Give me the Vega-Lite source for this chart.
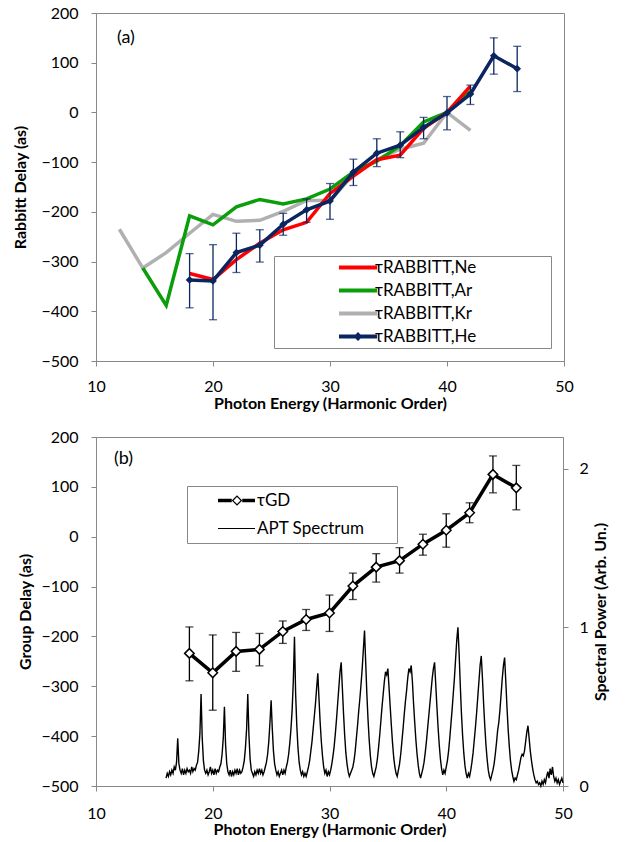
{
  "$schema": "https://vega.github.io/schema/vega-lite/v6.json",
  "padding": {"top": 4, "left": 12, "right": 2, "bottom": 2},
  "spacing": 16,
  "resolve": {"scale": {"color": "independent"}, "legend": {"color": "independent"}},
  "config": {
    "font": "Lato",
    "view": {"stroke": "#888888", "strokeWidth": 1},
    "axis": {"grid": false, "domainColor": "#888888", "domainWidth": 1, "tickColor": "#888888", "tickSize": 5, "tickWidth": 1, "labelFont": "Lato", "labelFontSize": 16, "labelColor": "#000000", "titleFont": "Lato", "titleFontSize": 16, "titleFontWeight": "bold", "titleColor": "#000000", "labelPadding": 13, "labelFlush": false, "labelOverlap": false, "titlePadding": 12},
    "legend": {"labelFont": "Lato", "labelFontSize": 17, "labelColor": "#000000", "fillColor": "#ffffff", "strokeColor": "#888888", "symbolSize": 100, "symbolStrokeWidth": 0, "labelLimit": 400, "titleOrient": "right", "titleOpacity": 0, "titleFont": "Lato", "titleFontWeight": "normal", "titleLimit": 400}
  },
  "datasets": {
    "delays": [
      {"s": "τRABBITT,Kr", "h": 12, "d": -235}, {"s": "τRABBITT,Kr", "h": 14, "d": -313}, {"s": "τRABBITT,Kr", "h": 16, "d": -282}, {"s": "τRABBITT,Kr", "h": 18, "d": -243}, {"s": "τRABBITT,Kr", "h": 20, "d": -205}, {"s": "τRABBITT,Kr", "h": 22, "d": -219}, {"s": "τRABBITT,Kr", "h": 24, "d": -217}, {"s": "τRABBITT,Kr", "h": 26, "d": -199}, {"s": "τRABBITT,Kr", "h": 28, "d": -177}, {"s": "τRABBITT,Kr", "h": 30, "d": -177}, {"s": "τRABBITT,Kr", "h": 32, "d": -125}, {"s": "τRABBITT,Kr", "h": 34, "d": -95}, {"s": "τRABBITT,Kr", "h": 36, "d": -74}, {"s": "τRABBITT,Kr", "h": 38, "d": -62}, {"s": "τRABBITT,Kr", "h": 40, "d": 0}, {"s": "τRABBITT,Kr", "h": 42, "d": -36},
      {"s": "τRABBITT,Ar", "h": 14, "d": -313}, {"s": "τRABBITT,Ar", "h": 16, "d": -388}, {"s": "τRABBITT,Ar", "h": 18, "d": -208}, {"s": "τRABBITT,Ar", "h": 20, "d": -226}, {"s": "τRABBITT,Ar", "h": 22, "d": -190}, {"s": "τRABBITT,Ar", "h": 24, "d": -175}, {"s": "τRABBITT,Ar", "h": 26, "d": -184}, {"s": "τRABBITT,Ar", "h": 28, "d": -174}, {"s": "τRABBITT,Ar", "h": 30, "d": -154}, {"s": "τRABBITT,Ar", "h": 32, "d": -120}, {"s": "τRABBITT,Ar", "h": 34, "d": -98}, {"s": "τRABBITT,Ar", "h": 36, "d": -67}, {"s": "τRABBITT,Ar", "h": 38, "d": -19}, {"s": "τRABBITT,Ar", "h": 40, "d": 0}, {"s": "τRABBITT,Ar", "h": 42, "d": 42},
      {"s": "τRABBITT,Ne", "h": 18, "d": -324}, {"s": "τRABBITT,Ne", "h": 20, "d": -336}, {"s": "τRABBITT,Ne", "h": 22, "d": -296}, {"s": "τRABBITT,Ne", "h": 24, "d": -263}, {"s": "τRABBITT,Ne", "h": 26, "d": -236}, {"s": "τRABBITT,Ne", "h": 28, "d": -221}, {"s": "τRABBITT,Ne", "h": 30, "d": -163}, {"s": "τRABBITT,Ne", "h": 32, "d": -128}, {"s": "τRABBITT,Ne", "h": 34, "d": -95}, {"s": "τRABBITT,Ne", "h": 36, "d": -86}, {"s": "τRABBITT,Ne", "h": 38, "d": -32}, {"s": "τRABBITT,Ne", "h": 40, "d": 0}, {"s": "τRABBITT,Ne", "h": 42, "d": 53},
      {"s": "τRABBITT,He", "h": 18, "d": -337, "lo": -393, "hi": -284}, {"s": "τRABBITT,He", "h": 20, "d": -339, "lo": -417, "hi": -266}, {"s": "τRABBITT,He", "h": 22, "d": -282, "lo": -322, "hi": -243}, {"s": "τRABBITT,He", "h": 24, "d": -267, "lo": -301, "hi": -236}, {"s": "τRABBITT,He", "h": 26, "d": -225, "lo": -247, "hi": -203}, {"s": "τRABBITT,He", "h": 28, "d": -196, "lo": -221, "hi": -174}, {"s": "τRABBITT,He", "h": 30, "d": -178, "lo": -215, "hi": -143}, {"s": "τRABBITT,He", "h": 32, "d": -120, "lo": -147, "hi": -94}, {"s": "τRABBITT,He", "h": 34, "d": -82, "lo": -109, "hi": -53}, {"s": "τRABBITT,He", "h": 36, "d": -66, "lo": -91, "hi": -39}, {"s": "τRABBITT,He", "h": 38, "d": -30, "lo": -53, "hi": -10}, {"s": "τRABBITT,He", "h": 40, "d": -1, "lo": -35, "hi": 32}, {"s": "τRABBITT,He", "h": 42, "d": 37, "lo": 16, "hi": 55}, {"s": "τRABBITT,He", "h": 44, "d": 114, "lo": 77, "hi": 150}, {"s": "τRABBITT,He", "h": 46, "d": 88, "lo": 42, "hi": 133}
    ],
    "gd": [
      {"h": 18, "d": -234, "lo": -289, "hi": -181}, {"h": 20, "d": -273, "lo": -348, "hi": -197}, {"h": 22, "d": -230, "lo": -270, "hi": -192}, {"h": 24, "d": -226, "lo": -259, "hi": -194}, {"h": 26, "d": -190, "lo": -214, "hi": -169}, {"h": 28, "d": -166, "lo": -188, "hi": -146}, {"h": 30, "d": -153, "lo": -190, "hi": -117}, {"h": 32, "d": -99, "lo": -126, "hi": -73}, {"h": 34, "d": -61, "lo": -91, "hi": -34}, {"h": 36, "d": -48, "lo": -73, "hi": -22}, {"h": 38, "d": -15, "lo": -37, "hi": 5}, {"h": 40, "d": 13, "lo": -21, "hi": 46}, {"h": 42, "d": 48, "lo": 28, "hi": 68}, {"h": 44, "d": 125, "lo": 88, "hi": 162}, {"h": 46, "d": 98, "lo": 54, "hi": 143}
    ],
    "apt": [
      {"h":16.0,"p":0.05},{"h":16.1,"p":0.08},{"h":16.2,"p":0.06},{"h":16.3,"p":0.09},{"h":16.4,"p":0.07},{"h":16.5,"p":0.10},{"h":16.6,"p":0.08},{"h":16.7,"p":0.12},{"h":16.8,"p":0.10},{"h":16.9,"p":0.15},
      {"h":17.0,"p":0.30},{"h":17.1,"p":0.14},{"h":17.2,"p":0.10},{"h":17.3,"p":0.08},{"h":17.4,"p":0.11},{"h":17.5,"p":0.07},{"h":17.6,"p":0.10},{"h":17.7,"p":0.08},{"h":17.8,"p":0.11},{"h":17.9,"p":0.09},
      {"h":18.0,"p":0.10},{"h":18.1,"p":0.08},{"h":18.2,"p":0.12},{"h":18.3,"p":0.09},{"h":18.4,"p":0.11},{"h":18.5,"p":0.10},{"h":18.6,"p":0.13},{"h":18.7,"p":0.15},{"h":18.8,"p":0.22},{"h":18.9,"p":0.33},
      {"h":19.0,"p":0.58},{"h":19.1,"p":0.30},{"h":19.2,"p":0.16},{"h":19.3,"p":0.10},{"h":19.4,"p":0.08},{"h":19.5,"p":0.10},{"h":19.6,"p":0.07},{"h":19.7,"p":0.09},{"h":19.8,"p":0.12},{"h":19.9,"p":0.08},
      {"h":20.0,"p":0.10},{"h":20.1,"p":0.07},{"h":20.2,"p":0.11},{"h":20.3,"p":0.08},{"h":20.4,"p":0.10},{"h":20.5,"p":0.09},{"h":20.6,"p":0.12},{"h":20.7,"p":0.14},{"h":20.8,"p":0.20},{"h":20.9,"p":0.30},
      {"h":21.0,"p":0.50},{"h":21.1,"p":0.26},{"h":21.2,"p":0.14},{"h":21.3,"p":0.09},{"h":21.4,"p":0.07},{"h":21.5,"p":0.10},{"h":21.6,"p":0.06},{"h":21.7,"p":0.09},{"h":21.8,"p":0.07},{"h":21.9,"p":0.10},
      {"h":22.0,"p":0.08},{"h":22.1,"p":0.11},{"h":22.2,"p":0.07},{"h":22.3,"p":0.10},{"h":22.4,"p":0.08},{"h":22.5,"p":0.09},{"h":22.6,"p":0.12},{"h":22.7,"p":0.16},{"h":22.8,"p":0.24},{"h":22.9,"p":0.36},
      {"h":23.0,"p":0.58},{"h":23.1,"p":0.32},{"h":23.2,"p":0.17},{"h":23.3,"p":0.10},{"h":23.4,"p":0.08},{"h":23.5,"p":0.06},{"h":23.6,"p":0.09},{"h":23.7,"p":0.07},{"h":23.8,"p":0.10},{"h":23.9,"p":0.08},
      {"h":24.0,"p":0.11},{"h":24.1,"p":0.08},{"h":24.2,"p":0.10},{"h":24.3,"p":0.07},{"h":24.4,"p":0.09},{"h":24.5,"p":0.12},{"h":24.6,"p":0.15},{"h":24.7,"p":0.20},{"h":24.8,"p":0.28},{"h":24.9,"p":0.40},
      {"h":25.0,"p":0.54},{"h":25.1,"p":0.36},{"h":25.2,"p":0.22},{"h":25.3,"p":0.14},{"h":25.4,"p":0.10},{"h":25.5,"p":0.07},{"h":25.6,"p":0.09},{"h":25.7,"p":0.06},{"h":25.8,"p":0.08},{"h":25.9,"p":0.10},
      {"h":26.0,"p":0.07},{"h":26.1,"p":0.10},{"h":26.2,"p":0.08},{"h":26.3,"p":0.12},{"h":26.4,"p":0.15},{"h":26.5,"p":0.20},{"h":26.6,"p":0.27},{"h":26.7,"p":0.36},{"h":26.8,"p":0.48},{"h":26.9,"p":0.66},
      {"h":27.0,"p":0.94},{"h":27.1,"p":0.58},{"h":27.2,"p":0.38},{"h":27.3,"p":0.24},{"h":27.4,"p":0.15},{"h":27.5,"p":0.10},{"h":27.6,"p":0.07},{"h":27.7,"p":0.09},{"h":27.8,"p":0.06},{"h":27.9,"p":0.08},
      {"h":28.0,"p":0.06},{"h":28.1,"p":0.09},{"h":28.2,"p":0.12},{"h":28.3,"p":0.16},{"h":28.4,"p":0.22},{"h":28.5,"p":0.28},{"h":28.6,"p":0.36},{"h":28.7,"p":0.44},{"h":28.8,"p":0.52},{"h":28.9,"p":0.62},
      {"h":29.0,"p":0.71},{"h":29.1,"p":0.55},{"h":29.2,"p":0.40},{"h":29.3,"p":0.28},{"h":29.4,"p":0.19},{"h":29.5,"p":0.12},{"h":29.6,"p":0.08},{"h":29.7,"p":0.10},{"h":29.8,"p":0.06},{"h":29.9,"p":0.09},
      {"h":30.0,"p":0.07},{"h":30.1,"p":0.10},{"h":30.2,"p":0.14},{"h":30.3,"p":0.19},{"h":30.4,"p":0.25},{"h":30.5,"p":0.33},{"h":30.6,"p":0.42},{"h":30.7,"p":0.52},{"h":30.8,"p":0.62},{"h":30.9,"p":0.72},
      {"h":31.0,"p":0.78},{"h":31.1,"p":0.62},{"h":31.2,"p":0.46},{"h":31.3,"p":0.32},{"h":31.4,"p":0.21},{"h":31.5,"p":0.14},{"h":31.6,"p":0.09},{"h":31.7,"p":0.06},{"h":31.8,"p":0.08},{"h":31.9,"p":0.10},
      {"h":32.0,"p":0.12},{"h":32.1,"p":0.16},{"h":32.2,"p":0.22},{"h":32.3,"p":0.30},{"h":32.4,"p":0.38},{"h":32.5,"p":0.47},{"h":32.6,"p":0.55},{"h":32.7,"p":0.64},{"h":32.8,"p":0.74},{"h":32.9,"p":0.86},
      {"h":33.0,"p":0.98},{"h":33.1,"p":0.78},{"h":33.2,"p":0.58},{"h":33.3,"p":0.42},{"h":33.4,"p":0.29},{"h":33.5,"p":0.19},{"h":33.6,"p":0.12},{"h":33.7,"p":0.08},{"h":33.8,"p":0.06},{"h":33.9,"p":0.09},
      {"h":34.0,"p":0.12},{"h":34.1,"p":0.17},{"h":34.2,"p":0.24},{"h":34.3,"p":0.32},{"h":34.4,"p":0.41},{"h":34.5,"p":0.50},{"h":34.6,"p":0.58},{"h":34.7,"p":0.66},{"h":34.8,"p":0.72},{"h":34.9,"p":0.70},
      {"h":35.0,"p":0.74},{"h":35.1,"p":0.62},{"h":35.2,"p":0.50},{"h":35.3,"p":0.38},{"h":35.4,"p":0.27},{"h":35.5,"p":0.18},{"h":35.6,"p":0.12},{"h":35.7,"p":0.08},{"h":35.8,"p":0.06},{"h":35.9,"p":0.10},
      {"h":36.0,"p":0.14},{"h":36.1,"p":0.20},{"h":36.2,"p":0.28},{"h":36.3,"p":0.36},{"h":36.4,"p":0.45},{"h":36.5,"p":0.53},{"h":36.6,"p":0.60},{"h":36.7,"p":0.68},{"h":36.8,"p":0.74},{"h":36.9,"p":0.72},
      {"h":37.0,"p":0.76},{"h":37.1,"p":0.66},{"h":37.2,"p":0.52},{"h":37.3,"p":0.40},{"h":37.4,"p":0.29},{"h":37.5,"p":0.20},{"h":37.6,"p":0.13},{"h":37.7,"p":0.08},{"h":37.8,"p":0.05},{"h":37.9,"p":0.08},
      {"h":38.0,"p":0.11},{"h":38.1,"p":0.15},{"h":38.2,"p":0.21},{"h":38.3,"p":0.28},{"h":38.4,"p":0.36},{"h":38.5,"p":0.44},{"h":38.6,"p":0.52},{"h":38.7,"p":0.60},{"h":38.8,"p":0.68},{"h":38.9,"p":0.74},
      {"h":39.0,"p":0.78},{"h":39.1,"p":0.64},{"h":39.2,"p":0.50},{"h":39.3,"p":0.37},{"h":39.4,"p":0.26},{"h":39.5,"p":0.17},{"h":39.6,"p":0.11},{"h":39.7,"p":0.07},{"h":39.8,"p":0.10},{"h":39.9,"p":0.08},
      {"h":40.0,"p":0.12},{"h":40.1,"p":0.16},{"h":40.2,"p":0.22},{"h":40.3,"p":0.30},{"h":40.4,"p":0.39},{"h":40.5,"p":0.48},{"h":40.6,"p":0.58},{"h":40.7,"p":0.68},{"h":40.8,"p":0.80},{"h":40.9,"p":0.92},
      {"h":41.0,"p":1.00},{"h":41.1,"p":0.84},{"h":41.2,"p":0.64},{"h":41.3,"p":0.46},{"h":41.4,"p":0.32},{"h":41.5,"p":0.21},{"h":41.6,"p":0.13},{"h":41.7,"p":0.08},{"h":41.8,"p":0.05},{"h":41.9,"p":0.08},
      {"h":42.0,"p":0.06},{"h":42.1,"p":0.10},{"h":42.2,"p":0.15},{"h":42.3,"p":0.21},{"h":42.4,"p":0.29},{"h":42.5,"p":0.37},{"h":42.6,"p":0.46},{"h":42.7,"p":0.56},{"h":42.8,"p":0.66},{"h":42.9,"p":0.76},
      {"h":43.0,"p":0.82},{"h":43.1,"p":0.68},{"h":43.2,"p":0.52},{"h":43.3,"p":0.38},{"h":43.4,"p":0.26},{"h":43.5,"p":0.17},{"h":43.6,"p":0.10},{"h":43.7,"p":0.06},{"h":43.8,"p":0.04},{"h":43.9,"p":0.07},
      {"h":44.0,"p":0.10},{"h":44.1,"p":0.14},{"h":44.2,"p":0.20},{"h":44.3,"p":0.27},{"h":44.4,"p":0.35},{"h":44.5,"p":0.40},{"h":44.6,"p":0.48},{"h":44.7,"p":0.58},{"h":44.8,"p":0.68},{"h":44.9,"p":0.76},
      {"h":45.0,"p":0.81},{"h":45.1,"p":0.66},{"h":45.2,"p":0.50},{"h":45.3,"p":0.36},{"h":45.4,"p":0.25},{"h":45.5,"p":0.16},{"h":45.6,"p":0.10},{"h":45.7,"p":0.06},{"h":45.8,"p":0.03},{"h":45.9,"p":0.05},
      {"h":46.0,"p":0.04},{"h":46.1,"p":0.07},{"h":46.2,"p":0.10},{"h":46.3,"p":0.14},{"h":46.4,"p":0.18},{"h":46.5,"p":0.20},{"h":46.6,"p":0.19},{"h":46.7,"p":0.22},{"h":46.8,"p":0.28},{"h":46.9,"p":0.34},
      {"h":47.0,"p":0.38},{"h":47.1,"p":0.30},{"h":47.2,"p":0.22},{"h":47.3,"p":0.16},{"h":47.4,"p":0.11},{"h":47.5,"p":0.07},{"h":47.6,"p":0.04},{"h":47.7,"p":0.02},{"h":47.8,"p":0.03},{"h":47.9,"p":0.01},
      {"h":48.0,"p":0.02},{"h":48.1,"p":0.00},{"h":48.2,"p":0.03},{"h":48.3,"p":0.01},{"h":48.4,"p":0.04},{"h":48.5,"p":0.02},{"h":48.6,"p":0.06},{"h":48.7,"p":0.09},{"h":48.8,"p":0.05},{"h":48.9,"p":0.11},
      {"h":49.0,"p":0.07},{"h":49.1,"p":0.12},{"h":49.2,"p":0.06},{"h":49.3,"p":0.03},{"h":49.4,"p":0.05},{"h":49.5,"p":0.02},{"h":49.6,"p":0.04},{"h":49.7,"p":0.01},{"h":49.8,"p":0.03},{"h":49.9,"p":0.05},{"h":50.0,"p":0.02}
    ]
  },
  "vconcat": [
    {
      "width": 468,
      "height": 348,
      "title": {"text": "(a)", "anchor": "start", "frame": "group", "dx": 21, "dy": 42, "offset": 0, "fontSize": 18, "fontWeight": "normal", "font": "Lato", "color": "#000000"},
      "encoding": {
        "x": {"field": "h", "type": "quantitative", "scale": {"domain": [10, 50]}, "axis": {"values": [10, 20, 30, 40, 50], "title": "Photon Energy (Harmonic Order)", "labelPadding": 12, "titlePadding": 1}}
      },
      "layer": [
        {
          "data": {"name": "delays"},
          "mark": {"type": "line", "strokeWidth": 3.5},
          "encoding": {
            "y": {"field": "d", "type": "quantitative", "title": "Rabbitt Delay (as)", "scale": {"domain": [-500, 200]}, "axis": {"values": [-500, -400, -300, -200, -100, 0, 100, 200], "titlePadding": 12}},
            "color": {
              "field": "s", "type": "nominal",
              "scale": {"domain": ["τRABBITT,Ne", "τRABBITT,Ar", "τRABBITT,Kr", "τRABBITT,He"], "range": ["#ff0000", "#0a9e0a", "#b0b0b0", "#0b2560"]},
              "legend": {
                "orient": "none", "legendX": 178, "legendY": 243, "title": "MMMM", "titleFontSize": 17, "titlePadding": 8, "padding": 3, "rowPadding": 5, "labelOffset": 81,
                "encode": {"symbols": {"update": {
                  "shape": {"signal": "datum.value === 'τRABBITT,He' ? 'M10.7,-0.4H18.3V0.4H10.7Z M13.6,0L14.5,-0.9L15.4,0L14.5,0.9Z' : 'M10.7,-0.4H18.3V0.4H10.7Z'"},
                  "fill": {"signal": "datum.value === 'τRABBITT,Ne' ? '#ff0000' : datum.value === 'τRABBITT,Ar' ? '#0a9e0a' : datum.value === 'τRABBITT,Kr' ? '#b0b0b0' : '#0b2560'"},
                  "fillOpacity": {"value": 1},
                  "opacity": {"value": 1},
                  "stroke": {"value": "transparent"},
                  "strokeWidth": {"value": 0}
                }}}
              }
            }
          }
        },
        {
          "data": {"name": "delays"},
          "transform": [{"filter": "datum.s === 'τRABBITT,He'"}],
          "mark": {"type": "rule", "color": "#0b2560", "strokeWidth": 1.3},
          "encoding": {"y": {"field": "lo", "type": "quantitative", "title": "Rabbitt Delay (as)"}, "y2": {"field": "hi"}}
        },
        {
          "data": {"name": "delays"},
          "transform": [{"filter": "datum.s === 'τRABBITT,He'"}],
          "mark": {"type": "tick", "orient": "horizontal", "size": 8, "thickness": 1.3, "color": "#0b2560"},
          "encoding": {"y": {"field": "lo", "type": "quantitative", "title": "Rabbitt Delay (as)"}}
        },
        {
          "data": {"name": "delays"},
          "transform": [{"filter": "datum.s === 'τRABBITT,He'"}],
          "mark": {"type": "tick", "orient": "horizontal", "size": 8, "thickness": 1.3, "color": "#0b2560"},
          "encoding": {"y": {"field": "hi", "type": "quantitative", "title": "Rabbitt Delay (as)"}}
        },
        {
          "data": {"name": "delays"},
          "transform": [{"filter": "datum.s === 'τRABBITT,He'"}],
          "mark": {"type": "point", "shape": "diamond", "filled": true, "size": 60, "color": "#0b2560", "opacity": 1},
          "encoding": {"y": {"field": "d", "type": "quantitative", "title": "Rabbitt Delay (as)"}}
        }
      ]
    },
    {
      "width": 467,
      "height": 349,
      "title": {"text": "(b)", "anchor": "start", "frame": "group", "dx": 18, "dy": 39, "offset": 0, "fontSize": 18, "fontWeight": "normal", "font": "Lato", "color": "#000000"},
      "encoding": {
        "x": {"field": "h", "type": "quantitative", "scale": {"domain": [10, 50]}, "axis": {"values": [10, 20, 30, 40, 50], "title": "Photon Energy (Harmonic Order)", "labelPadding": 14, "titlePadding": 0}}
      },
      "layer": [
        {
          "data": {"name": "apt"},
          "mark": {"type": "line", "strokeWidth": 1.4},
          "encoding": {
            "y": {"field": "p", "type": "quantitative", "title": "Spectral Power (Arb. Un.)", "scale": {"domain": [0, 2.2]}, "axis": {"orient": "right", "values": [0, 1, 2], "titleAngle": 270, "labelPadding": 11, "titlePadding": 20}},
            "color": {
              "datum": "APT Spectrum", "type": "nominal",
              "scale": {"domain": ["τGD", "APT Spectrum"], "range": ["#000000", "#000000"]},
              "legend": {
                "orient": "none", "legendX": 91, "legendY": 49, "title": "MM", "titleFontSize": 11, "titlePadding": 5, "padding": 6, "rowPadding": 10, "labelOffset": 47,
                "encode": {"symbols": {"update": {
                  "shape": {"signal": "datum.value === 'τGD' ? 'M3.3,-0.35H6.05V0.35H3.3Z M8.15,-0.35H10.7V0.35H8.15Z M6.05,0L7.1,-1.05L8.15,0L7.1,1.05Z M6.4,0L7.1,0.7L7.8,0L7.1,-0.7Z' : 'M3.3,-0.12H10.7V0.12H3.3Z'"},
                  "fill": {"value": "#000000"},
                  "fillOpacity": {"value": 1},
                  "opacity": {"value": 1},
                  "stroke": {"value": "transparent"},
                  "strokeWidth": {"value": 0}
                }}}
              }
            }
          }
        },
        {
          "data": {"name": "gd"},
          "layer": [
            {
              "mark": {"type": "rule", "color": "#000000", "strokeWidth": 1.3},
              "encoding": {"y": {"field": "lo", "type": "quantitative", "title": "Group Delay (as)", "scale": {"domain": [-500, 200]}, "axis": {"orient": "left", "values": [-500, -400, -300, -200, -100, 0, 100, 200], "titlePadding": 7}}, "y2": {"field": "hi"}}
            },
            {
              "mark": {"type": "tick", "orient": "horizontal", "size": 8, "thickness": 1.3, "color": "#000000"},
              "encoding": {"y": {"field": "lo", "type": "quantitative", "title": "Group Delay (as)"}}
            },
            {
              "mark": {"type": "tick", "orient": "horizontal", "size": 8, "thickness": 1.3, "color": "#000000"},
              "encoding": {"y": {"field": "hi", "type": "quantitative", "title": "Group Delay (as)"}}
            },
            {
              "mark": {"type": "line", "strokeWidth": 3.5},
              "encoding": {"y": {"field": "d", "type": "quantitative", "title": "Group Delay (as)"}, "color": {"datum": "τGD", "type": "nominal"}}
            },
            {
              "mark": {"type": "point", "shape": "diamond", "filled": true, "size": 90, "fill": "#ffffff", "stroke": "#000000", "strokeWidth": 1.5, "opacity": 1},
              "encoding": {"y": {"field": "d", "type": "quantitative", "title": "Group Delay (as)"}}
            }
          ]
        }
      ],
      "resolve": {"scale": {"y": "independent"}}
    }
  ]
}
